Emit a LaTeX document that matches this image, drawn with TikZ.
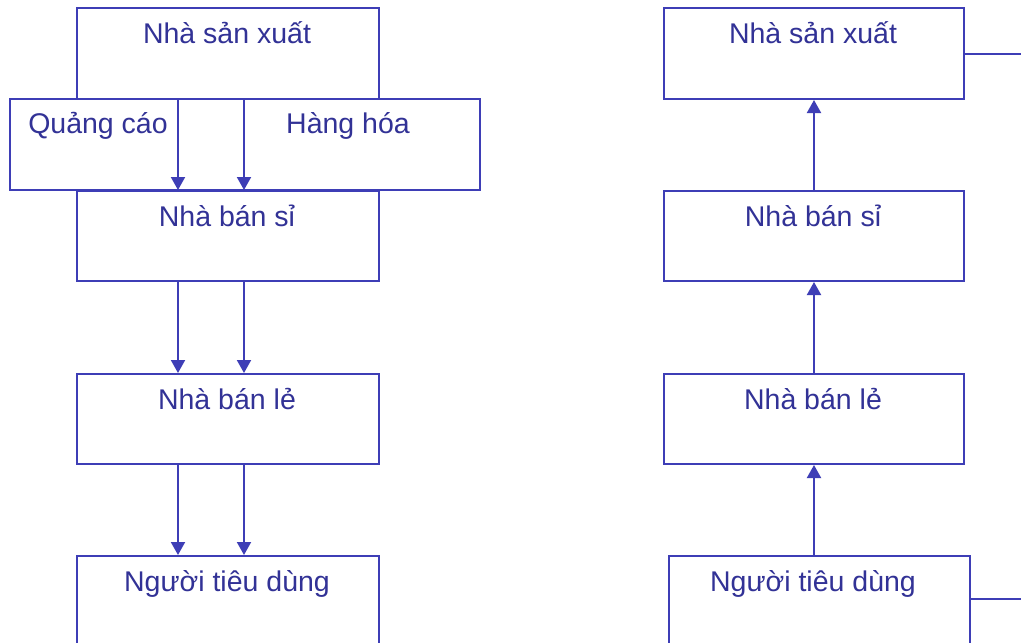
\documentclass[tikz,border=0pt]{standalone}
\usepackage{fontspec}
\setmainfont{Liberation Sans}
\usetikzlibrary{arrows.meta}
\definecolor{linec}{RGB}{62,62,182}
\definecolor{txtc}{RGB}{50,50,150}
\tikzset{
  box/.style={draw=linec, line width=2pt, rectangle, inner sep=0pt, anchor=north west},
  lbl/.style={anchor=base, text=txtc, font=\fontsize{28.5}{32}\selectfont, inner sep=0pt},
  arr/.style={draw=linec, line width=2pt, -{Triangle[width=14pt,length=13pt]}},
  ln/.style={draw=linec, line width=2pt}
}
\begin{document}
\begin{tikzpicture}[x=1pt,y=-1pt]
\clip (0,0) rectangle (1021,643);
\fill[white] (0,0) rectangle (1021,643);
% left column
\node[box, minimum width=470pt, minimum height=91pt] (wide) at (9,98) {};
\node[box, minimum width=302pt, minimum height=91pt] (prodL) at (76,7) {};
\node[box, minimum width=302pt, minimum height=90pt] (wsL) at (76,190) {};
\node[box, minimum width=302pt, minimum height=90pt] (rtL) at (76,373) {};
\node[box, minimum width=302pt, minimum height=91pt] (csL) at (76,555) {};
\node[lbl] (tprodL) at (227,43) {Nhà sản xuất};
\node[lbl] (tqc) at (98,133) {Quảng cáo};
\node[lbl] (thh) at (348,133) {Hàng hóa};
\node[lbl] (twsL) at (227,226) {Nhà bán sỉ};
\node[lbl] (trtL) at (227,409) {Nhà bán lẻ};
\node[lbl] (tcsL) at (227,591) {Người tiêu dùng};
\foreach \s in {-50pt,16pt}{
  \draw[arr] ([xshift=\s]prodL.south) -- ([xshift=\s]wsL.north);
  \draw[arr] ([xshift=\s]wsL.south) -- ([xshift=\s]rtL.north);
  \draw[arr] ([xshift=\s]rtL.south) -- ([xshift=\s]csL.north);
}
% right column
\node[box, minimum width=300pt, minimum height=91pt] (prodR) at (663,7) {};
\node[box, minimum width=300pt, minimum height=90pt] (wsR) at (663,190) {};
\node[box, minimum width=300pt, minimum height=90pt] (rtR) at (663,373) {};
\node[box, minimum width=301pt, minimum height=90pt] (csR) at (668,555) {};
\node[lbl] (tprodR) at (813,43) {Nhà sản xuất};
\node[lbl] (twsR) at (813,226) {Nhà bán sỉ};
\node[lbl] (trtR) at (813,409) {Nhà bán lẻ};
\node[lbl] (tcsR) at (813,591) {Người tiêu dùng};
\coordinate (endR) at (1030,0);
\coordinate (endC) at (1030,599);
\draw[arr] (wsR.north) -- (prodR.south);
\draw[arr] (rtR.north) -- (wsR.south);
\draw[arr] (csR.north -| rtR.south) -- (rtR.south);
\draw[ln] (prodR.east) -- (prodR.east -| endR);
\draw[ln] (csR.east |- endC) -- (endC);
\end{tikzpicture}
\end{document}
